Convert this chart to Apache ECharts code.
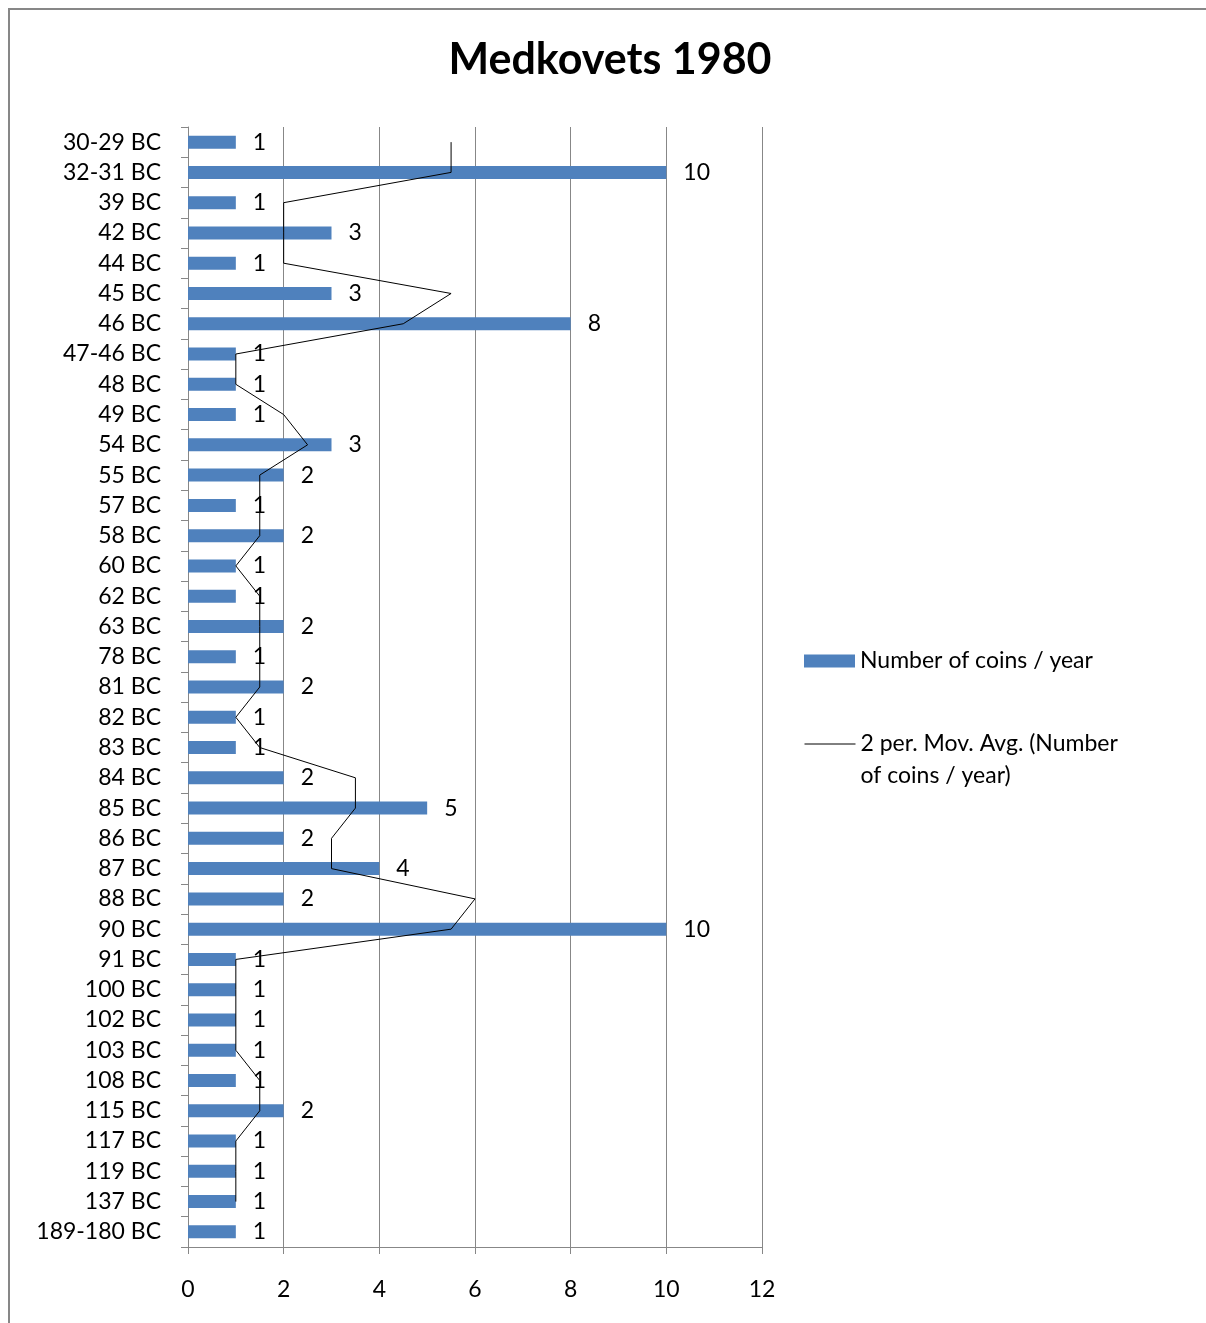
<!DOCTYPE html>
<html>
<head>
<meta charset="utf-8">
<title>Medkovets 1980</title>
<script src="https://cdn.jsdelivr.net/npm/echarts@6/dist/echarts.min.js"></script>
<style>
  html, body { margin: 0; padding: 0; background: #fff; }
  #chart { width: 1206px; height: 1323px; }
</style>
</head>
<body>
<div id="chart"></div>
<script>
// Dating categories, listed top to bottom
const categories = [
  '30-29 BC', '32-31 BC', '39 BC', '42 BC', '44 BC', '45 BC', '46 BC', '47-46 BC',
  '48 BC', '49 BC', '54 BC', '55 BC', '57 BC', '58 BC', '60 BC', '62 BC', '63 BC',
  '78 BC', '81 BC', '82 BC', '83 BC', '84 BC', '85 BC', '86 BC', '87 BC', '88 BC',
  '90 BC', '91 BC', '100 BC', '102 BC', '103 BC', '108 BC', '115 BC', '117 BC',
  '119 BC', '137 BC', '189-180 BC'
];

// Number of coins per year
const coins = [
  1, 10, 1, 3, 1, 3, 8, 1,
  1, 1, 3, 2, 1, 2, 1, 1, 2,
  1, 2, 1, 1, 2, 5, 2, 4, 2,
  10, 1, 1, 1, 1, 1, 2, 1,
  1, 1, 1
];

// 2-period moving average trendline (no value for the earliest category)
const movingAvg = [
  5.5, 5.5, 2, 2, 2, 5.5, 4.5, 1,
  1, 2, 2.5, 1.5, 1.5, 1.5, 1, 1.5, 1.5,
  1.5, 1.5, 1, 1.5, 3.5, 3.5, 3, 3, 6,
  5.5, 1, 1, 1, 1, 1.5, 1.5, 1,
  1, 1, null
];

// Value axis ticks
const xTicks = [0, 2, 4, 6, 8, 10, 12];

const FONT = 'Lato';
const GRAY = '#878787';
const barName = 'Number of coins / year';
const lineName = '2 per. Mov. Avg. (Number of coins / year)';

const chart = echarts.init(document.getElementById('chart'), null, { renderer: 'canvas' });

chart.setOption({
  backgroundColor: '#ffffff',
  animation: false,
  textStyle: { fontFamily: FONT, color: '#000' },
  title: {
    text: 'Medkovets 1980',
    left: 605,
    textAlign: 'center',
    top: 34,
    textStyle: { fontFamily: FONT, fontWeight: 'bold', fontSize: 43, color: '#000' }
  },
  graphic: [{
    type: 'rect',
    shape: { x: 9, y: 9, width: 1400, height: 1500 },
    style: { fill: 'none', stroke: GRAY, lineWidth: 2 },
    silent: true,
    z: -1
  }],
  legend: [{
    orient: 'vertical',
    left: 804,
    top: 645,
    padding: 0,
    data: [barName],
    itemWidth: 51,
    itemHeight: 13,
    itemGap: 0,
    icon: 'rect',
    selectedMode: false,
    textStyle: { fontFamily: FONT, fontSize: 23, color: '#000', lineHeight: 32 }
  }, {
    orient: 'vertical',
    left: 804,
    top: 696,
    padding: 0,
    data: [lineName],
    itemWidth: 51,
    itemHeight: 13,
    itemGap: 0,
    selectedMode: false,
    itemStyle: { opacity: 0 },
    lineStyle: { color: '#000', width: 1, opacity: 1 },
    // blank first row keeps the swatch level with the first text row
    formatter: () => '{t| }\n{t|2 per. Mov. Avg. (Number}\n{t|of coins / year)}',
    textStyle: {
      fontFamily: FONT, fontSize: 23, color: '#000', lineHeight: 32,
      rich: { t: { fontFamily: FONT, fontSize: 23, color: '#000', lineHeight: 32 } }
    }
  }],
  grid: { left: 188, right: 444, top: 127, bottom: 76, containLabel: false },
  xAxis: {
    type: 'value',
    min: xTicks[0],
    max: xTicks[xTicks.length - 1],
    interval: 2,
    axisLine: { show: true, lineStyle: { color: GRAY, width: 1 } },
    axisTick: { show: true, length: 7, lineStyle: { color: GRAY } },
    splitLine: { show: true, lineStyle: { color: GRAY, width: 1 } },
    axisLabel: { fontFamily: FONT, fontSize: 23, color: '#000', margin: 31 }
  },
  yAxis: {
    type: 'category',
    data: categories,
    inverse: true,
    axisLine: { show: true, lineStyle: { color: GRAY, width: 1 } },
    axisTick: { show: true, length: 7, alignWithLabel: false, lineStyle: { color: GRAY } },
    axisLabel: { fontFamily: FONT, fontSize: 23, color: '#000', margin: 27 },
    splitLine: { show: false }
  },
  series: [{
    name: barName,
    type: 'bar',
    data: coins,
    barWidth: 13,
    itemStyle: { color: '#4F81BD' },
    label: {
      show: true,
      position: 'right',
      distance: 17,
      fontFamily: FONT,
      fontSize: 23,
      color: '#000'
    },
    z: 2
  }, {
    name: lineName,
    type: 'line',
    data: movingAvg,
    symbol: 'none',
    connectNulls: false,
    lineStyle: { color: '#000', width: 1 },
    itemStyle: { color: '#000' },
    z: 3
  }]
});
</script>
</body>
</html>
